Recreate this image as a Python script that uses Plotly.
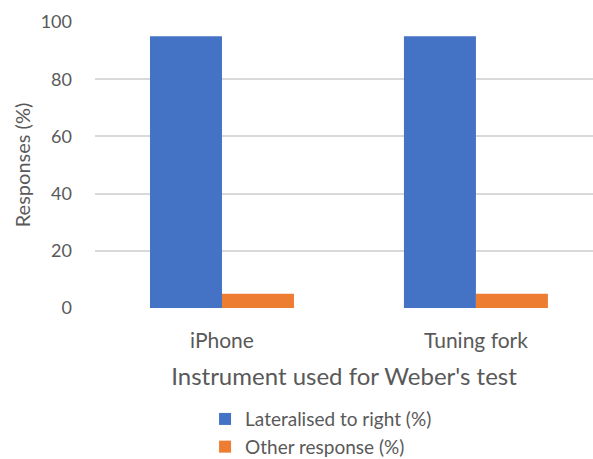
import plotly.graph_objects as go

categories = ["iPhone", "Tuning fork"]
lateralised_right = [95, 95]
other_response = [5, 5]
series_names = ["Lateralised to right (%)", "Other response (%)"]
y_ticks = [0, 20, 40, 60, 80, 100]

FONT = "Lato"
GRAY = "#595959"

fig = go.Figure()
fig.add_trace(go.Bar(x=categories, y=lateralised_right, name=series_names[0],
                     marker=dict(color="#4472C4", line=dict(width=0)), legendgroup="a"))
fig.add_trace(go.Bar(x=categories, y=other_response, name=series_names[1],
                     marker=dict(color="#ED7D31", line=dict(width=0)), legendgroup="b"))

fig.update_layout(
    width=593, height=459,
    margin=dict(l=95, r=0, t=22, b=151, autoexpand=False),
    paper_bgcolor="white", plot_bgcolor="white",
    barmode="group", bargap=0.433, bargroupgap=0,
    font=dict(family=FONT, color=GRAY, size=18),
    showlegend=True,
    legend=dict(orientation="v", x=0.221, xanchor="left", y=-0.322, yanchor="top",
                font=dict(size=19, color=GRAY), tracegroupgap=0,
                bgcolor="rgba(0,0,0,0)", itemwidth=30),
    xaxis=dict(range=[-0.5, 1.461], showgrid=False, showline=False, zeroline=False,
               ticks="", tickfont=dict(size=21, color=GRAY), ticklabelstandoff=18,
               title=dict(text="Instrument used for Weber's test",
                          font=dict(size=24, color=GRAY), standoff=17)),
    yaxis=dict(range=[0, 100], tickvals=y_ticks, showgrid=True, gridcolor="#d9d9d9",
               gridwidth=1.5, zeroline=False, showline=False, ticks="",
               tickfont=dict(size=18, color=GRAY), ticklabelstandoff=22,
               title=dict(text="Responses (%)", font=dict(size=20, color=GRAY), standoff=4)),
)

fig.write_html("out.html")
